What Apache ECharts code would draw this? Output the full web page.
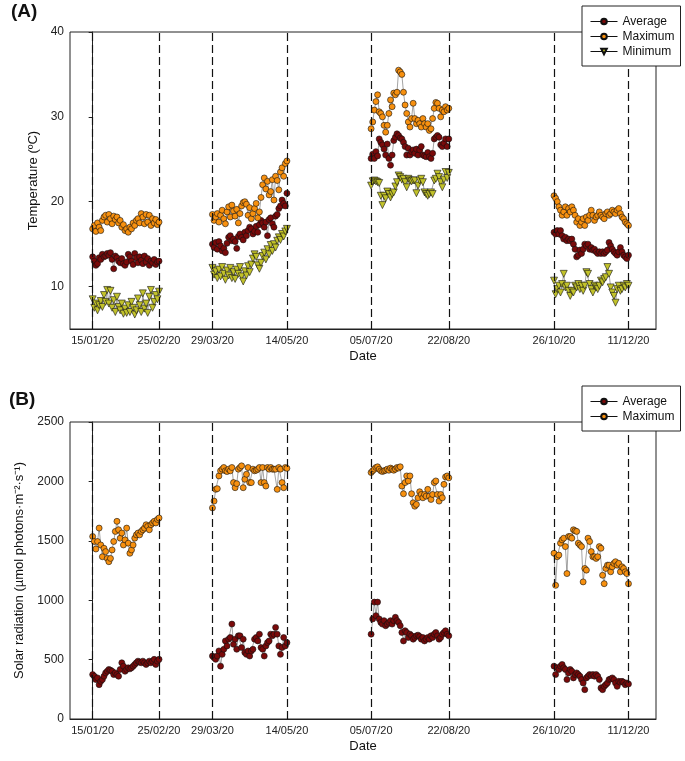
<!DOCTYPE html>
<html>
<head>
<meta charset="utf-8">
<script src="https://cdn.jsdelivr.net/npm/echarts@6/dist/echarts.min.js"></script>
<style>
  html, body { margin: 0; padding: 0; background: #fff; }
  #chart { width: 685px; height: 761px; }
</style>
</head>
<body>
<div id="chart"></div>
<script>
// day offsets from 15/01/20 of the dashed lines / axis labels
var dateDays = [0, 41, 74, 120, 172, 220, 285, 331];
var dateLabels = ['15/01/20', '25/02/20', '29/03/20', '14/05/20', '05/07/20', '22/08/20', '26/10/20', '11/12/20'];
// first day of each sampling period (one value per day)
var periodStart = [0, 74, 172, 285];

// (A) temperature, ºC
var tempAvg = [
    [13.5,13.0,12.5,12.7,13.4,13.2,13.8,13.5,13.6,13.9,13.7,14.0,13.2,12.1,13.6,13.4,13.0,12.8,13.3,12.7,12.5,12.9,13.8,13.5,13.0,12.6,13.9,13.4,12.8,13.5,13.1,12.7,13.6,12.9,13.3,12.5,13.0,12.8,13.2,12.6,12.9,13.0],
    [15.0,14.6,15.2,14.4,15.3,14.8,14.2,14.5,14.0,15.1,15.8,16.0,15.4,15.6,15.3,14.5,15.9,16.2,15.8,15.5,16.4,16.0,16.6,17.0,16.8,16.2,16.5,17.1,16.4,17.3,17.8,17.5,17.0,17.6,16.0,17.9,18.1,17.4,17.0,18.3,18.5,19.2,19.5,20.2,19.8,19.5,21.0],
    [25.1,25.6,25.1,25.9,25.4,27.4,27.0,26.7,26.2,25.5,26.8,25.1,24.3,25.5,27.2,27.6,28.0,27.8,27.5,27.4,27.0,26.5,25.5,26.3,25.5,25.9,26.1,25.7,26.2,25.5,26.1,26.5,25.5,25.4,25.3,25.8,25.3,25.1,25.7,27.4,27.6,27.8,27.6,26.7,26.5,26.9,27.4,26.5,27.4],
    [16.4,16.2,16.6,16.2,16.6,16.0,15.6,15.8,15.4,15.6,15.4,15.6,15.0,14.4,13.5,13.7,14.3,13.9,14.4,15.0,14.8,15.0,14.4,14.6,14.3,14.4,14.1,13.9,14.1,13.9,14.1,13.9,14.1,14.3,15.2,14.8,14.4,14.1,13.9,13.7,14.1,14.6,14.1,13.7,13.5,13.3,13.7]
];
var tempMax = [
    [16.8,17.2,16.5,17.5,17.0,16.6,17.8,18.2,18.4,17.6,18.5,18.0,17.4,18.3,17.9,18.2,17.5,17.8,17.0,17.3,16.6,16.8,16.4,17.0,16.8,17.5,17.2,17.8,18.0,17.5,18.6,18.2,17.4,18.5,17.6,18.4,17.2,18.0,17.5,17.9,17.3,17.6],
    [18.5,17.8,18.2,18.6,17.6,18.4,19.0,18.0,17.4,18.8,19.4,18.2,19.6,18.9,18.3,19.1,17.5,18.6,19.5,19.9,20.0,19.7,18.4,19.3,18.0,18.6,19.2,19.8,18.1,18.8,20.5,22.0,22.8,21.5,22.4,20.8,21.2,22.6,20.2,23.0,22.5,21.4,23.5,24.0,23.0,24.5,24.8],
    [28.6,29.4,30.8,31.8,32.6,30.6,30.4,30.0,29.0,28.2,29.0,30.4,32.0,31.2,32.8,32.6,32.9,35.5,35.3,35.0,32.9,31.4,30.4,29.4,28.8,29.8,31.6,29.8,29.2,29.6,29.2,28.8,29.8,29.2,28.8,29.2,28.4,28.6,29.8,31.0,31.7,31.6,31.0,30.0,30.8,30.6,31.2,30.8,31.0],
    [20.7,20.4,20.0,19.4,19.0,18.4,18.8,19.4,18.4,19.2,18.8,19.4,19.0,18.4,17.6,18.0,17.2,17.6,18.0,17.2,18.2,17.8,18.4,19.0,18.4,17.8,18.2,18.4,18.8,18.4,18.2,18.0,18.6,18.8,18.4,18.6,19.0,18.8,18.6,19.0,19.2,18.6,18.2,18.0,17.6,17.4,17.2]
];
var tempMin = [
    [8.5,7.5,8.0,7.2,7.8,8.3,7.6,9.0,8.2,9.6,8.0,9.5,7.5,8.4,7.0,8.8,7.6,7.2,8.0,6.8,7.4,6.9,7.8,7.0,8.2,7.5,6.7,7.2,8.6,7.8,7.0,9.2,7.4,8.0,6.9,8.8,9.6,7.5,8.2,9.0,8.5,9.4],
    [12.2,11.4,11.8,11.0,12.0,11.2,12.3,11.5,10.8,11.9,11.3,12.2,11.0,11.7,10.9,12.0,11.5,12.3,11.2,10.6,11.8,11.3,12.4,11.7,12.6,13.3,13.8,13.5,12.5,12.1,12.8,13.6,14.0,13.2,14.4,13.8,14.9,14.2,15.0,14.6,15.4,15.8,15.5,16.2,15.9,16.5,16.8],
    [21.9,22.4,22.5,22.4,22.3,22.2,20.7,19.6,20.7,20.4,21.2,20.9,20.5,20.9,21.1,21.8,22.3,23.1,22.9,22.6,22.7,22.3,21.7,22.7,22.5,22.4,22.5,22.5,21.0,21.9,22.5,22.7,22.3,21.1,20.9,20.7,20.9,21.1,20.9,22.5,22.7,23.3,22.9,22.3,21.7,22.6,23.5,22.8,23.4],
    [10.7,9.1,9.7,10.1,9.3,10.3,11.5,9.9,10.1,9.5,8.9,9.5,9.3,10.1,9.9,10.3,9.7,10.1,9.5,10.1,11.7,11.5,10.3,9.7,9.3,10.1,9.9,9.7,10.1,10.7,10.5,10.9,11.1,12.3,11.5,9.9,9.3,8.9,8.1,9.7,10.1,9.5,9.7,10.1,9.9,10.3,10.1]
];

// (B) solar radiation, µmol photons m-2 s-1
var radAvg = [
    [374,360,332,346,289,317,332,360,388,402,417,411,402,374,388,374,360,417,473,445,402,417,431,422,431,445,459,473,487,479,473,487,473,459,473,487,473,487,502,459,487,502],
    [530,516,502,530,573,445,544,587,657,615,672,686,799,629,672,587,700,700,601,672,559,544,573,530,573,587,672,686,657,714,601,587,530,615,643,657,714,700,714,771,714,615,544,601,686,615,643],
    [714,842,984,870,984,842,813,799,828,785,799,813,828,799,828,856,828,813,785,728,657,743,728,686,714,700,672,686,700,706,694,672,686,657,672,686,672,700,686,714,728,700,672,686,714,728,743,714,700],
    [445,374,431,417,445,459,431,417,332,388,417,402,346,374,388,374,360,332,303,247,346,360,374,366,374,360,374,360,332,261,247,275,289,303,332,337,346,332,303,275,317,309,317,309,289,303,295]
];
var radMax = [
    [1536,1494,1431,1494,1607,1465,1366,1437,1409,1352,1324,1352,1423,1494,1579,1664,1593,1522,1565,1465,1508,1607,1480,1395,1423,1465,1522,1550,1565,1550,1579,1593,1607,1635,1621,1593,1635,1650,1664,1650,1680,1692],
    [1777,1834,1933,1939,2046,2089,2103,2117,2089,2083,2103,2089,2117,1990,1947,1981,2103,2117,2131,1947,2018,2060,2117,1990,1990,2103,2089,2094,2103,2117,1990,2117,1990,1961,2117,2103,2117,2103,2103,2103,1933,2117,2103,1990,1947,2117,2110],
    [2075,2089,2103,2117,2123,2103,2089,2083,2089,2094,2103,2094,2112,2103,2094,2103,2117,2112,2123,1961,1896,1990,2046,2004,2046,1896,1820,1791,1806,1862,1913,1890,1862,1890,1876,1933,1876,1848,1890,1990,2004,1890,1834,1890,1862,1975,2038,2046,2030],
    [1395,1125,1366,1380,1480,1508,1522,1451,1224,1536,1536,1522,1593,1584,1579,1480,1465,1451,1154,1267,1253,1522,1494,1409,1366,1366,1352,1366,1451,1437,1210,1139,1267,1295,1295,1239,1281,1310,1324,1295,1310,1239,1281,1267,1239,1224,1139]
];

var tempTicks = [10, 20, 30, 40];
var font = 'Liberation Sans, Arial, sans-serif';

// daily values -> [day, value], with a break between periods
function toPoints(periods) {
    var out = [];
    for (var p = 0; p < periods.length; p++) {
        if (p > 0) out.push([periodStart[p] - 1, '-']);
        for (var i = 0; i < periods[p].length; i++) {
            out.push([periodStart[p] + i, periods[p][i]]);
        }
    }
    return out;
}

function lineSeries(name, periods, idx, symbol, color, rotate) {
    return {
        name: name,
        type: 'line',
        xAxisIndex: idx,
        yAxisIndex: idx,
        data: toPoints(periods),
        symbol: symbol,
        symbolSize: symbol === 'triangle' ? 7 : 6,
        symbolRotate: rotate || 0,
        showAllSymbol: true,
        itemStyle: {color: color, borderColor: '#111', borderWidth: 0.6},
        lineStyle: {color: '#666', width: 0.6},
        emphasis: {disabled: true},
        animation: false
    };
}

function dashes() {
    return {
        silent: true,
        symbol: ['none', 'none'],
        label: {show: false},
        lineStyle: {type: [8, 4], color: '#111', width: 1.2},
        data: dateDays.map(function (d) { return {xAxis: d}; }),
        animation: false
    };
}

function xAxisFor(idx) {
    return {
        gridIndex: idx,
        type: 'value',
        min: -14,
        max: 348,
        name: 'Date',
        nameLocation: 'middle',
        nameGap: 21,
        nameTextStyle: {fontSize: 13, color: '#111', fontFamily: font},
        axisLine: {lineStyle: {color: '#222', width: 1}},
        axisTick: {show: false},
        splitLine: {show: false},
        axisLabel: {
            customValues: dateDays,
            fontSize: 11,
            color: '#222',
            margin: 6,
            fontFamily: font,
            formatter: function (v) {
                var k = dateDays.indexOf(Math.round(v));
                return k >= 0 ? dateLabels[k] : '';
            }
        }
    };
}

var legendBase = {
    orient: 'vertical',
    left: 582,
    backgroundColor: '#fff',
    borderColor: '#222',
    borderWidth: 1,
    padding: [8, 6, 7, 8],
    itemWidth: 27,
    itemHeight: 7,
    itemGap: 0,
    z: 10,
    lineStyle: {color: '#111', width: 1},
    textStyle: {fontSize: 12, color: '#111', fontFamily: font, lineHeight: 15}
};

var chart = echarts.init(document.getElementById('chart'));

var tAvgSeries = lineSeries('Average', tempAvg, 0, 'circle', '#7a0a0a');
tAvgSeries.markLine = dashes();
var rAvgSeries = lineSeries('Average', radAvg, 1, 'circle', '#7a0a0a');
rAvgSeries.markLine = dashes();

var option = {
    animation: false,
    textStyle: {fontFamily: font},
    grid: [
        {left: 70, top: 32, width: 586, height: 297, show: true, borderColor: '#222', borderWidth: 1},
        {left: 70, top: 422, width: 586, height: 297, show: true, borderColor: '#222', borderWidth: 1}
    ],
    xAxis: [xAxisFor(0), xAxisFor(1)],
    yAxis: [
        {
            gridIndex: 0,
            type: 'value',
            min: 5,
            max: 40,
            name: 'Temperature (ºC)',
            nameLocation: 'middle',
            nameGap: 30,
            nameTextStyle: {fontSize: 13, color: '#111', fontFamily: font},
            axisLine: {lineStyle: {color: '#222'}},
            axisTick: {customValues: tempTicks, length: 4, lineStyle: {color: '#222'}},
            axisLabel: {customValues: tempTicks, fontSize: 12, color: '#222', margin: 6},
            splitLine: {show: false}
        },
        {
            gridIndex: 1,
            type: 'value',
            min: 0,
            max: 2500,
            interval: 500,
            name: 'Solar radiation (µmol photons·m⁻²·s⁻¹)',
            nameLocation: 'middle',
            nameGap: 31,
            nameTextStyle: {fontSize: 13, color: '#111', fontFamily: font},
            axisLine: {lineStyle: {color: '#222'}},
            axisTick: {length: 4, lineStyle: {color: '#222'}},
            axisLabel: {
                fontSize: 12, color: '#222', margin: 6,
                formatter: function (v) { return String(v); }
            },
            splitLine: {show: false}
        }
    ],
    legend: [
        Object.assign({}, legendBase, {top: 6, data: ['Average', 'Maximum', 'Minimum']}),
        Object.assign({}, legendBase, {top: 386, data: ['Average', 'Maximum']})
    ],
    graphic: [
        {type: 'text', left: 11, top: 2, style: {text: '(A)', font: 'bold 19px ' + font, fill: '#111'}},
        {type: 'text', left: 9, top: 390, style: {text: '(B)', font: 'bold 19px ' + font, fill: '#111'}}
    ],
    series: [
        tAvgSeries,
        lineSeries('Maximum', tempMax, 0, 'circle', '#f7900f'),
        lineSeries('Minimum', tempMin, 0, 'triangle', '#c2c22a', 180),
        rAvgSeries,
        lineSeries('Maximum', radMax, 1, 'circle', '#f7900f')
    ]
};

chart.setOption(option);
</script>
</body>
</html>
